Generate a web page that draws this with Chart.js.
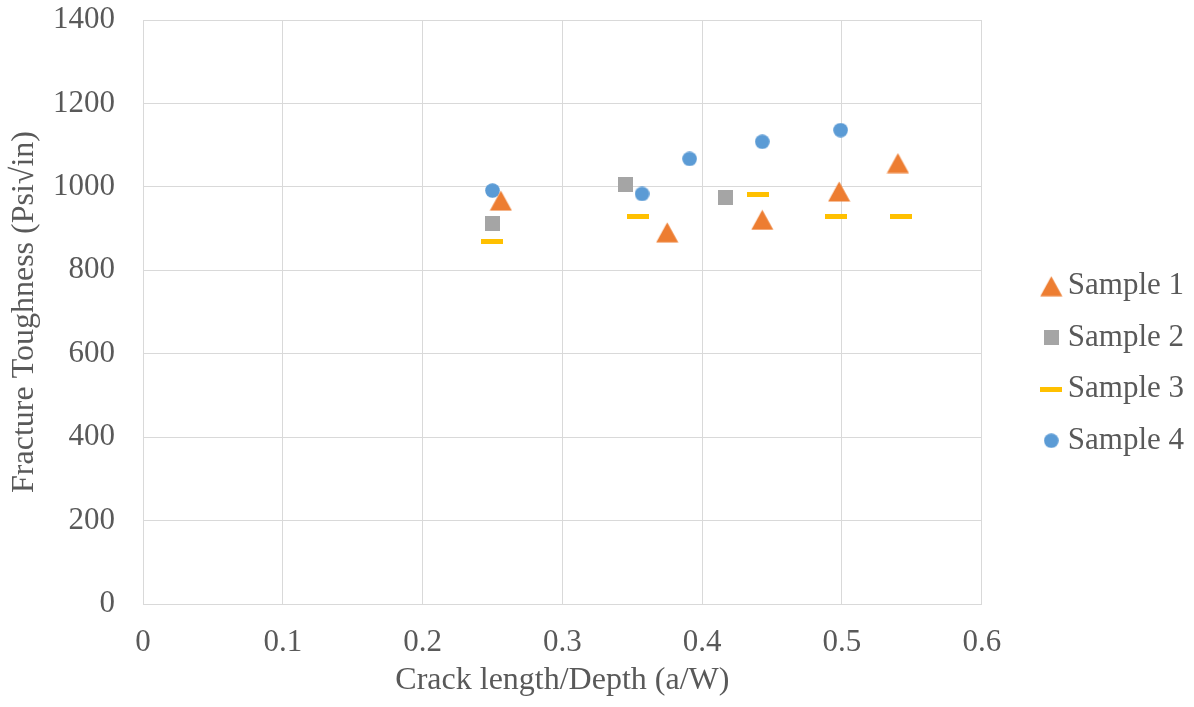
<!DOCTYPE html>
<html>
<head>
<meta charset="utf-8">
<title>Fracture Toughness vs Crack length/Depth</title>
<script src="https://cdn.jsdelivr.net/npm/chart.js@4.4.1/dist/chart.umd.min.js"></script>
<style>
  html, body { margin: 0; padding: 0; background: #ffffff; }
  canvas { display: block; }
</style>
</head>
<body>
<canvas id="chart" width="1194" height="707"></canvas>
<script>
// Axis ticks
const xTicks = [0, 0.1, 0.2, 0.3, 0.4, 0.5, 0.6];
const yTicks = [0, 200, 400, 600, 800, 1000, 1200, 1400];

// Series: crack length ratio (a/W) and fracture toughness (Psi√in)
const seriesNames = ['Sample 1', 'Sample 2', 'Sample 3', 'Sample 4'];

const sample1X = [0.256, 0.375, 0.443, 0.498, 0.540];
const sample1Y = [967, 891, 921, 989, 1057];

const sample2X = [0.250, 0.345, 0.417];
const sample2Y = [913, 1005, 974];

const sample3X = [0.250, 0.354, 0.440, 0.496, 0.542];
const sample3Y = [868, 930, 982, 929, 929];

const sample4X = [0.250, 0.357, 0.391, 0.443, 0.499];
const sample4Y = [991, 983, 1067, 1108, 1136];

// Marker glyphs drawn once on small canvases
function makeMarker(w, h, paint) {
  const c = document.createElement('canvas');
  c.width = w; c.height = h;
  paint(c.getContext('2d'), w, h);
  return c;
}
const triangleMark = makeMarker(23, 21, (g, w, h) => {
  g.fillStyle = '#ED7D31';
  g.beginPath();
  g.moveTo(w / 2, 0.5);
  g.lineTo(w - 0.5, h - 0.5);
  g.lineTo(0.5, h - 0.5);
  g.closePath();
  g.fill();
});
const squareMark = makeMarker(15, 15, (g, w, h) => {
  g.fillStyle = '#A5A5A5';
  g.fillRect(0, 0, w, h);
});
const dashMark = makeMarker(22, 5, (g, w, h) => {
  g.fillStyle = '#FFC000';
  g.fillRect(0, 0, w, h);
});
const circleMark = makeMarker(15, 15, (g, w, h) => {
  g.fillStyle = '#5B9BD5';
  g.beginPath();
  g.arc(w / 2, h / 2, 7.3, 0, Math.PI * 2);
  g.fill();
});

function points(xs, ys) {
  return xs.map((x, i) => ({ x: x, y: ys[i] }));
}

const serif = "'Liberation Serif', 'Times New Roman', serif";
const textColor = '#595959';
const gridColor = '#D9D9D9';

const datasets = [
  { label: seriesNames[0], data: points(sample1X, sample1Y), pointStyle: triangleMark, color: '#ED7D31' },
  { label: seriesNames[1], data: points(sample2X, sample2Y), pointStyle: squareMark, color: '#A5A5A5' },
  { label: seriesNames[2], data: points(sample3X, sample3Y), pointStyle: dashMark, color: '#FFC000' },
  { label: seriesNames[3], data: points(sample4X, sample4Y), pointStyle: circleMark, color: '#5B9BD5' }
].map(d => ({
  label: d.label,
  data: d.data,
  showLine: false,
  pointStyle: d.pointStyle,
  pointRadius: 6,
  pointHoverRadius: 6,
  backgroundColor: d.color,
  borderColor: d.color,
  pointBorderWidth: 0
}));

new Chart(document.getElementById('chart'), {
  type: 'scatter',
  data: { datasets: datasets },
  options: {
    responsive: false,
    animation: false,
    events: [],
    layout: { padding: { top: 20, right: 0, bottom: 0, left: 0 } },
    plugins: {
      tooltip: { enabled: false },
      legend: {
        position: 'right',
        labels: {
          usePointStyle: true,
          pointStyleWidth: 2,
          padding: 20.5,
          color: textColor,
          font: { family: serif, size: 31 }
        }
      }
    },
    scales: {
      x: {
        type: 'linear',
        min: xTicks[0],
        max: xTicks[xTicks.length - 1],
        afterBuildTicks: s => { s.ticks = xTicks.map(v => ({ value: v })); },
        afterFit: s => { s.height = 103; s.paddingLeft = 0; s.paddingRight = 0; },
        grid: { color: gridColor, lineWidth: 1, drawTicks: false },
        border: { display: true, color: gridColor, width: 1 },
        ticks: {
          padding: 20,
          color: textColor,
          font: { family: serif, size: 31 },
          callback: v => String(Number(v.toFixed(1)))
        },
        title: {
          display: true,
          text: 'Crack length/Depth (a/W)',
          color: textColor,
          font: { family: serif, size: 32 },
          padding: { top: 0, bottom: 7 }
        }
      },
      y: {
        type: 'linear',
        min: yTicks[0],
        max: yTicks[yTicks.length - 1],
        afterBuildTicks: s => { s.ticks = yTicks.map(v => ({ value: v })); },
        afterFit: s => { s.width = 143; s.paddingTop = 0; s.paddingBottom = 0; },
        grid: { color: gridColor, lineWidth: 1, drawTicks: false },
        border: { display: true, color: gridColor, width: 1 },
        ticks: {
          padding: 28,
          color: textColor,
          font: { family: serif, size: 31 },
          callback: v => String(v)
        },
        title: {
          display: true,
          text: 'Fracture Toughness (Psi√in)',
          color: textColor,
          font: { family: serif, size: 32 },
          padding: { top: 5, bottom: 0 }
        }
      },
      // empty spacer between the plot and the legend
      gap: {
        type: 'linear',
        position: 'right',
        display: true,
        afterFit: s => { s.width = 48; },
        grid: { display: false, drawTicks: false },
        border: { display: false },
        ticks: { display: false }
      }
    }
  }
});
</script>
</body>
</html>
